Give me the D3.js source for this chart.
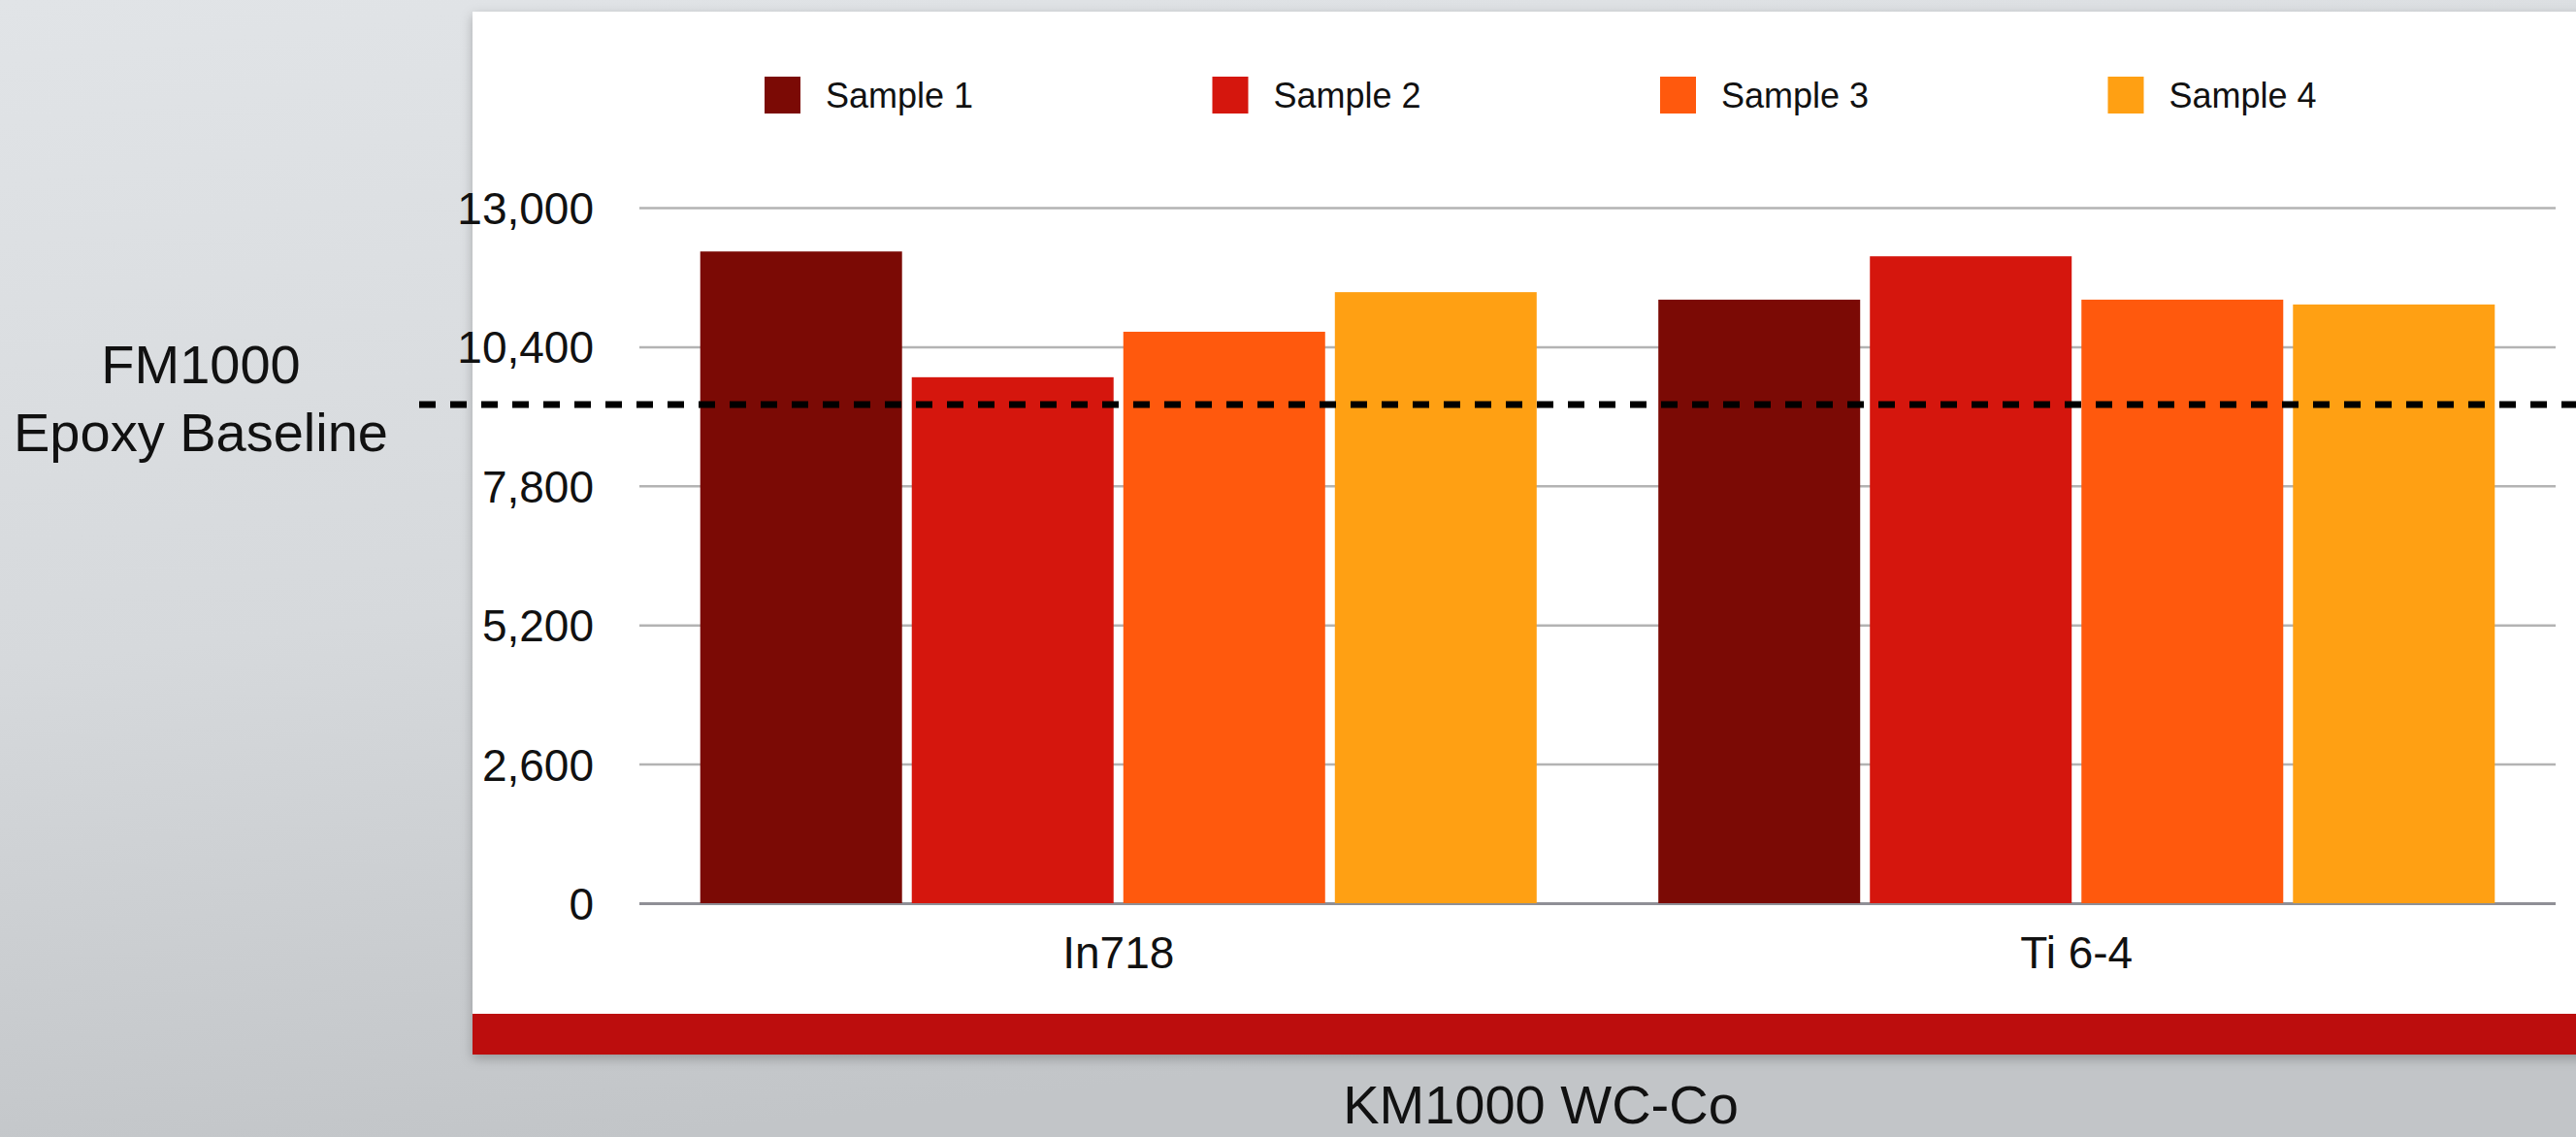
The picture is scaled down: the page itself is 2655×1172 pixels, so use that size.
<!DOCTYPE html>
<html>
<head>
<meta charset="utf-8">
<script src="https://cdn.jsdelivr.net/npm/d3@7"></script>
<style>
  html, body { margin: 0; padding: 0; overflow: hidden; }
  svg { display: block; font-family: "Liberation Sans", Arial, Helvetica, sans-serif; }
</style>
</head>
<body>
<svg id="chart" width="2655" height="1172"></svg>
<script>
// Bond strength by substrate, four samples each
const categories = ["In718", "Ti 6-4"];
const series = ["Sample 1", "Sample 2", "Sample 3", "Sample 4"];
const sample1 = [12180, 11280];
const sample2 = [9830, 12090];
const sample3 = [10680, 11280];
const sample4 = [11420, 11190];
const yTicks = [0, 2600, 5200, 7800, 10400, 13000];
const baselineValue = 9320;
const baselineLabel = ["FM1000", "Epoxy Baseline"];
const footerLabel = "KM1000 WC-Co";
const colors = ["#7b0a05", "#d5160d", "#ff590d", "#ffa013"];

const values = [sample1, sample2, sample3, sample4];

const svg = d3.select("#chart");
const W = 2655, H = 1172;

// background
const defs = svg.append("defs");
const bg = defs.append("linearGradient").attr("id", "bg")
  .attr("x1", 0).attr("y1", 0).attr("x2", 0.25).attr("y2", 1);
bg.append("stop").attr("offset", "0%").attr("stop-color", "#e1e4e7");
bg.append("stop").attr("offset", "55%").attr("stop-color", "#d6d9dc");
bg.append("stop").attr("offset", "100%").attr("stop-color", "#c2c5c8");
const shadow = defs.append("filter").attr("id", "shadow")
  .attr("x", "-5%").attr("y", "-5%").attr("width", "110%").attr("height", "115%");
shadow.append("feDropShadow").attr("dx", 0).attr("dy", 4).attr("stdDeviation", 6)
  .attr("flood-color", "#000").attr("flood-opacity", 0.25);

svg.append("rect").attr("width", W).attr("height", H).attr("fill", "url(#bg)");

// card with red footer strip
const card = svg.append("g").attr("filter", "url(#shadow)");
card.append("rect").attr("x", 487).attr("y", 12).attr("width", W - 487 + 20).attr("height", 1075 - 12 + 12).attr("fill", "#ffffff");
card.append("rect").attr("x", 487).attr("y", 1045).attr("width", W - 487 + 20).attr("height", 42).attr("fill", "#bc1010");

// scales
const plotLeft = 659, plotRight = 2634;
const y = d3.scaleLinear().domain([0, 13000]).range([931, 214]);
const x0 = d3.scaleBand().domain(categories).range([plotLeft, plotRight])
  .paddingInner(0.127).paddingOuter(0.0635);
const x1 = d3.scaleBand().domain(series).range([0, x0.bandwidth()])
  .paddingInner(0.046).paddingOuter(0);

// gridlines + tick labels
const yAxis = d3.axisLeft(y).tickValues(yTicks).tickFormat(d3.format(","))
  .tickSize(-(plotRight - plotLeft)).tickPadding(47);
const gy = svg.append("g").attr("transform", `translate(${plotLeft},0)`).call(yAxis);
gy.select(".domain").remove();
gy.selectAll(".tick line").attr("stroke", "#b3b3b3").attr("stroke-width", 2.5);
gy.selectAll(".tick text").attr("fill", "#111").attr("font-size", 46).attr("dy", "0.36em");
gy.selectAll(".tick").filter(d => d === 0).select("line").attr("stroke", "#8f8f96").attr("stroke-width", 3);

// bars
const groups = svg.append("g").selectAll("g").data(categories).join("g")
  .attr("transform", d => `translate(${x0(d)},0)`);
groups.selectAll("rect")
  .data((c, ci) => series.map((s, si) => ({ s, si, v: values[si][ci] })))
  .join("rect")
  .attr("x", d => x1(d.s))
  .attr("width", x1.bandwidth())
  .attr("y", d => y(d.v))
  .attr("height", d => y(0) - y(d.v))
  .attr("fill", d => colors[d.si]);

// category labels
const xAxis = d3.axisBottom(x0).tickSize(0).tickPadding(34);
const gx = svg.append("g").attr("transform", `translate(0,${y(0)})`).call(xAxis);
gx.select(".domain").remove();
gx.selectAll(".tick text").attr("fill", "#111").attr("font-size", 46);

// legend
const legend = svg.append("g").selectAll("g").data(series).join("g")
  .attr("transform", (d, i) => `translate(${788 + i * 461.5},79)`);
legend.append("rect").attr("width", 37).attr("height", 38).attr("fill", (d, i) => colors[i]);
legend.append("text").attr("x", 63).attr("y", 19).attr("dy", "0.36em")
  .attr("font-size", 36).attr("fill", "#111").text(d => d);

// epoxy baseline reference
svg.append("line")
  .attr("x1", 432).attr("x2", W)
  .attr("y1", y(baselineValue)).attr("y2", y(baselineValue))
  .attr("stroke", "#000").attr("stroke-width", 7).attr("stroke-dasharray", "17 15");
svg.append("text").attr("text-anchor", "middle").attr("font-size", 56).attr("fill", "#111")
  .selectAll("tspan").data(baselineLabel).join("tspan")
  .attr("x", 207).attr("y", (d, i) => 395 + i * 70).text(d => d);

// footer caption
svg.append("text").attr("x", 1588).attr("y", 1158).attr("text-anchor", "middle")
  .attr("font-size", 56).attr("fill", "#111").text(footerLabel);
</script>
</body>
</html>
